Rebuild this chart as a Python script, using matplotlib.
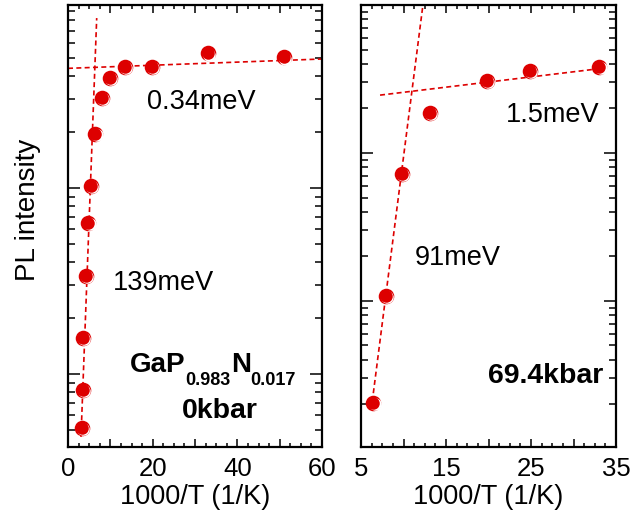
# PL intensity vs 1000/T for GaP0.983N0.017 at 0 kbar and 69.4 kbar
import numpy as np
import matplotlib.pyplot as plt
from matplotlib.ticker import MultipleLocator, FuncFormatter, LogLocator, NullFormatter
from matplotlib.transforms import offset_copy

plt.rcParams['font.family'] = ['Liberation Sans', 'DejaVu Sans']

# 0 kbar data
x_0kbar = [3.24, 3.47, 3.61, 4.25, 4.80, 5.43, 6.45, 7.96, 9.92, 13.46, 19.77, 33.1, 51.0]
y_0kbar = [0.514, 0.82, 1.56, 3.36, 6.48, 10.3, 19.5, 30.6, 39.2, 44.6, 44.6, 53.0, 50.4]
fit_hi_0kbar_x = [3.07, 6.78]      # 139 meV
fit_hi_0kbar_y = [0.459, 82.0]
fit_lo_0kbar_x = [0.0, 60.0]       # 0.34 meV
fit_lo_0kbar_y = [44.0, 49.4]

# 69.4 kbar data
x_69kbar = [6.45, 7.94, 9.79, 13.1, 19.79, 24.88, 33.04]
y_69kbar = [0.2055, 1.08, 7.21, 18.7, 30.6, 36.0, 38.3]
fit_hi_69kbar_x = [6.45, 12.26]    # 91 meV
fit_hi_69kbar_y = [0.238, 97.4]
fit_lo_69kbar_x = [7.24, 33.5]     # 1.5 meV
fit_lo_69kbar_y = [24.6, 37.4]

red = '#dd0000'

fig = plt.figure(figsize=(6.34, 5.21), dpi=100)
ax1 = fig.add_axes([68/634, 74/521, 254/634, 442/521])
ax2 = fig.add_axes([361/634, 74/521, 255/634, 442/521])


def draw_points(ax, x, y):
    # red sphere with a thin white highlight at lower right
    ax.plot(x, y, 'o', ms=11.2, color=red, mec='none', zorder=3)
    shift = offset_copy(ax.transData, fig=fig, x=1.2, y=-1.2, units='dots')
    ax.plot(x, y, 'o', ms=9.0, color='white', mec='none', transform=shift, zorder=4)
    ax.plot(x, y, 'o', ms=9.0, color=red, mec='none', zorder=5)


def style_axis(ax, step, label_every, start):
    ax.set_yscale('log')
    ax.yaxis.set_major_locator(LogLocator(base=10, numticks=10))
    ax.yaxis.set_minor_locator(LogLocator(base=10, subs=np.arange(2, 10), numticks=10))
    ax.yaxis.set_major_formatter(NullFormatter())
    ax.yaxis.set_minor_formatter(NullFormatter())
    ax.xaxis.set_major_locator(MultipleLocator(step))
    ax.xaxis.set_minor_locator(MultipleLocator(step / 4))
    ax.xaxis.set_major_formatter(FuncFormatter(
        lambda v, p: '%d' % round(v) if abs((v - start) % label_every) < 1e-6 else ''))
    ax.tick_params(which='both', direction='in', top=True, right=True, width=1.1,
                   labelsize=18.5, pad=7)
    ax.tick_params(axis='y', which='major', length=8.5)
    ax.tick_params(axis='y', which='minor', length=5)
    ax.tick_params(axis='x', which='major', length=6)
    ax.tick_params(axis='x', which='minor', length=3)
    for s in ax.spines.values():
        s.set_linewidth(1.6)
    ax.set_xlabel('1000/T (1/K)', fontsize=19.5, labelpad=2)


ls_fit = (0, (3, 2))

# left panel: 0 kbar
ax1.plot(fit_hi_0kbar_x, fit_hi_0kbar_y, color=red, lw=1.2, ls=ls_fit, zorder=2)
ax1.plot(fit_lo_0kbar_x, fit_lo_0kbar_y, color=red, lw=1.2, ls=ls_fit, zorder=2)
draw_points(ax1, x_0kbar, y_0kbar)
ax1.set_xlim(0, 60)
ax1.set_ylim(0.405, 96.4)
style_axis(ax1, 10, 20, 0)
ax1.text(18.7, 29.0, '0.34meV', fontsize=19.5, va='center', ha='left')
ax1.text(10.6, 3.09, '139meV', fontsize=19.5, va='center', ha='left')

# GaP0.983N0.017 with lowered subscripts
t = ax1.text(14.6, 1.025, 'GaP', fontsize=20, fontweight='bold', va='baseline', ha='left')
s1 = ax1.annotate('0.983', xy=(1, 0), xycoords=t, xytext=(0, -8), textcoords='offset points',
                  fontsize=13, fontweight='bold', va='bottom', ha='left')
n = ax1.annotate('N', xy=(1, 0), xycoords=s1, xytext=(0, 8), textcoords='offset points',
                 fontsize=20, fontweight='bold', va='bottom', ha='left')
ax1.annotate('0.017', xy=(1, 0), xycoords=n, xytext=(0, -8), textcoords='offset points',
             fontsize=13, fontweight='bold', va='bottom', ha='left')
ax1.text(35.9, 0.58, '0kbar', fontsize=20.5, fontweight='bold', va='baseline', ha='center')

# right panel: 69.4 kbar
ax2.plot(fit_hi_69kbar_x, fit_hi_69kbar_y, color=red, lw=1.2, ls=ls_fit, zorder=2)
ax2.plot(fit_lo_69kbar_x, fit_lo_69kbar_y, color=red, lw=1.2, ls=ls_fit, zorder=2)
draw_points(ax2, x_69kbar, y_69kbar)
ax2.set_xlim(5, 35)
ax2.set_ylim(0.103, 100)
style_axis(ax2, 5, 10, 5)
ax2.text(33.1, 18.07, '1.5meV', fontsize=19.5, va='center', ha='right')
ax2.text(11.35, 1.95, '91meV', fontsize=19.5, va='center', ha='left')
ax2.text(33.5, 0.279, '69.4kbar', fontsize=20.5, fontweight='bold', va='baseline', ha='right')

fig.text(28/634, 1 - 210/521, 'PL intensity', fontsize=20, rotation=90, va='center', ha='center')

fig.savefig('out.png', dpi=100)
